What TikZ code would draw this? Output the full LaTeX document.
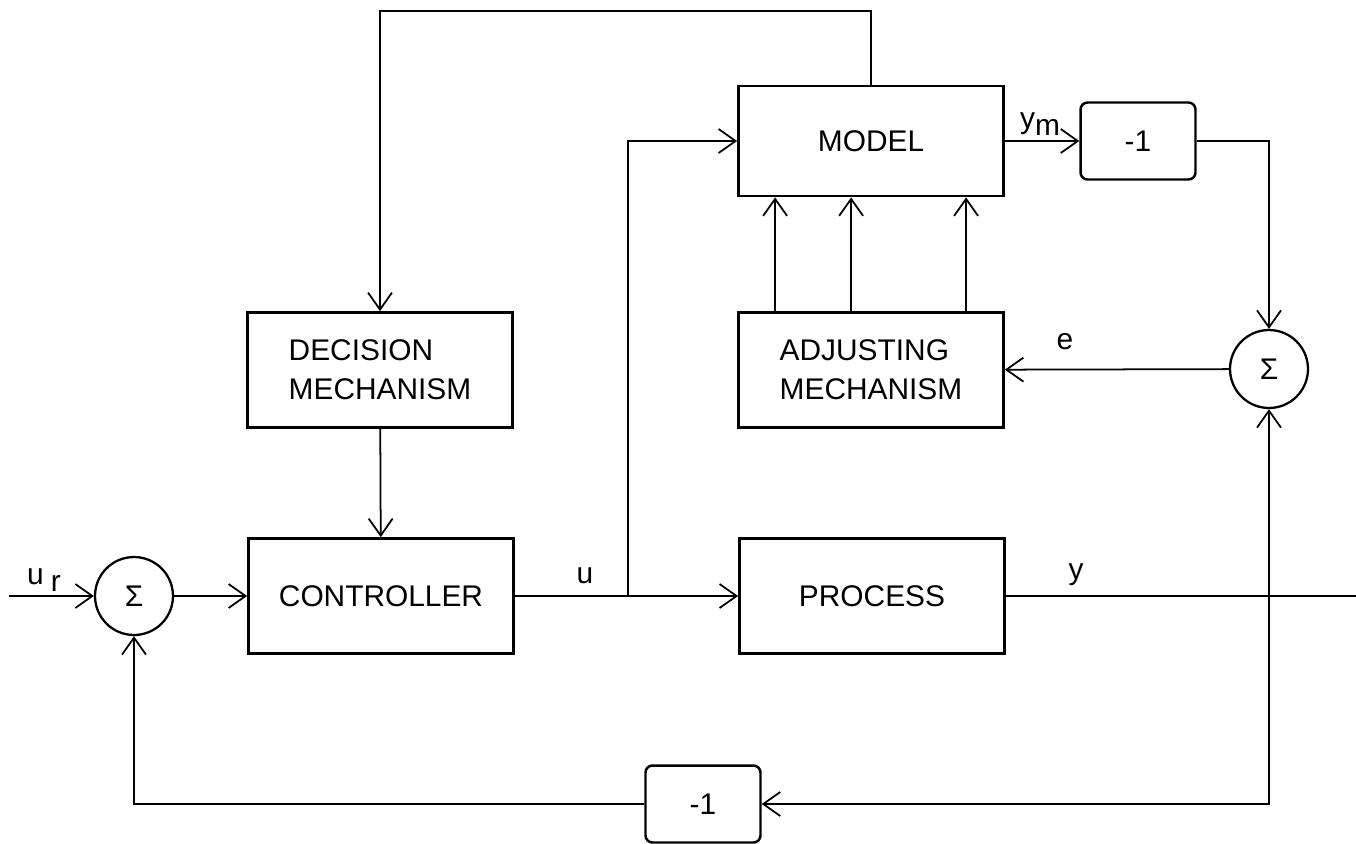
\documentclass[tikz,border=0pt]{standalone}
\usepackage{fontspec}
\setmainfont{Liberation Sans}
\usetikzlibrary{positioning,arrows.meta,calc}

\begin{document}
\begin{tikzpicture}[
    x=0.02cm, y=-0.02cm,
    blockbox/.style={rectangle, draw=black, fill=white, minimum width=5.3cm,
                     minimum height=2.3cm, align=left, line width=1.6pt,
                     font=\fontsize{17}{22}\selectfont},
    gainbox/.style={rectangle, rounded corners=4pt, draw=black, fill=white,
                    minimum width=2.3cm, minimum height=1.54cm, line width=1.4pt,
                    font=\fontsize{17}{20}\selectfont},
    sumnode/.style={circle, draw=black, fill=white, minimum size=1.56cm,
                    inner sep=0pt, line width=1.3pt, font=\fontsize{17}{20}\selectfont},
    siglabel/.style={inner sep=0pt, font=\fontsize{17}{20}\selectfont},
    arrow/.style={->, >={Straight Barb[length=3.4mm,width=4.8mm]}, line width=1pt}
]
\useasboundingbox (0,0) rectangle (1356,843);

% forward path
\node[sumnode] (sumL) at (134,596) {Σ};
\node[blockbox] (ctrl) at (381,596) {CONTROLLER};
\node[blockbox] (proc) at (872,596) {PROCESS};

% model and adjustment
\node[blockbox, minimum height=2.2cm] (model) at (871,141) {MODEL};
\node[blockbox] (adj) at (871,370) {ADJUSTING\\MECHANISM};
\node[gainbox] (gm) at (1138,141) {-1};
\node[sumnode] (sumR) at (1269,369) {Σ};

% decision
\node[blockbox] (dec) at (380,370) {DECISION\\MECHANISM};
\node[gainbox] (gy) at (703,804) {-1};

\coordinate (uin) at (9,596);
\coordinate (yout) at (1356,596);
\coordinate (ubranch) at (628,596);
\coordinate (toprun) at (628,11);
\coordinate (ytap) at (sumR |- proc);

% signals
\node[siglabel] (lur) at (44,580) {u\kern4pt\raisebox{-4pt}{r}};
\node[siglabel] (lu) at (585,576) {u};
\node[siglabel] (ly) at (1076,575) {y};
\node[siglabel] (lym) at (1040,124) {y\raisebox{-4pt}{m}};
\node[siglabel] (le) at (1065,342) {e};

% connections
\draw[arrow] (uin) -- (sumL);
\draw[arrow] (sumL) -- (ctrl);
\draw[arrow] (ctrl) -- (proc);
\draw[line width=1pt] (proc) -- (yout);
\draw[arrow] (ubranch) |- (model.west);
\draw[arrow] (model.north) |- (toprun) -| (dec.north);
\draw[arrow] (dec) -- (ctrl);
\foreach \dx in {0.76,2.28,4.58}
    \draw[arrow] ([xshift=\dx cm]adj.north west) -- ([xshift=\dx cm]model.south west);
\draw[arrow] (model) -- (gm);
\draw[arrow] (gm.east) -| (sumR.north);
\draw[arrow] (sumR) -- (adj);
\draw[arrow] (ytap) -- (sumR.south);
\draw[arrow] (ytap) |- (gy.east);
\draw[arrow] (gy.west) -| (sumL.south);

\end{tikzpicture}
\end{document}
